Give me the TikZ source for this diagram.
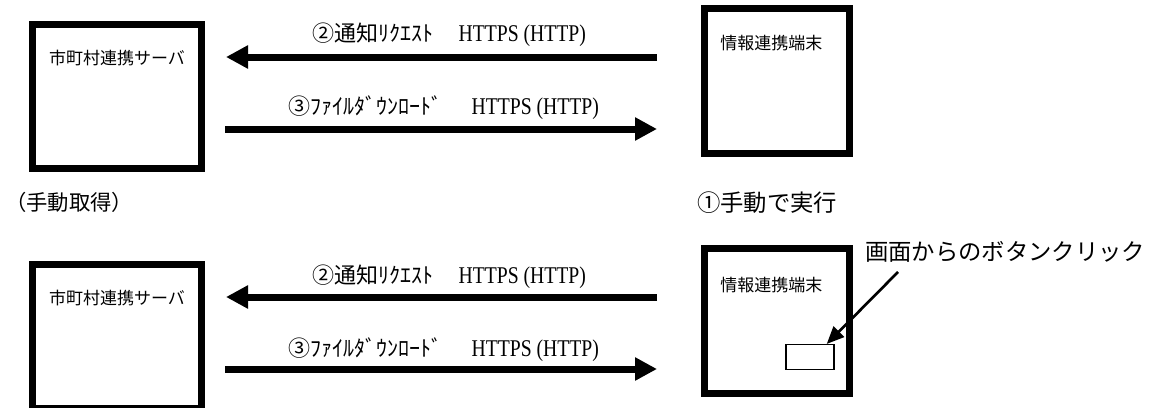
\documentclass[tikz,border=0pt]{standalone}
\usepackage{fontspec}
\usepackage{graphicx}
\setmainfont{Noto Sans CJK JP}
\newfontfamily\latfont{Liberation Serif}
\usetikzlibrary{arrows.meta,calc}

\newcommand{\proto}{\scalebox{0.82}[1]{\latfont\fontsize{18pt}{18pt}\selectfont HTTPS (HTTP)}}

\begin{document}
\begin{tikzpicture}[x=0.75pt,y=-0.75pt,
    box/.style={draw,line width=5.5pt,outer sep=2.75pt,inner sep=0pt,anchor=north west},
    srvbox/.style={box,minimum width=126.5pt,minimum height=107.8pt},
    termbox/.style={box,minimum width=108.5pt,minimum height=108.5pt},
    boxtext/.style={font=\fontsize{12.75pt}{14pt}\selectfont,inner sep=0pt},
    msg/.style={font=\fontsize{16.5pt}{18pt}\selectfont,inner sep=0pt,anchor=west},
    note/.style={font=\fontsize{17.5pt}{19pt}\selectfont,inner sep=0pt},
    bigarrow/.style={line width=5.25pt,-{Triangle[length=16.5pt,width=16.5pt]}}]

    \useasboundingbox (0,0) rectangle (1163,407);

    % 上段
    \node[srvbox] (srv1) at (29,21) {};
    \node[termbox] (term1) at (701,5) {};
    \node[boxtext] (srv1t) at (117,58) {市町村連携サーバ};
    \node[boxtext,anchor=west] (term1t) at (720,43) {情報連携端末};

    \coordinate (row1) at (0,57);
    \coordinate (row2) at (0,129);
    \node[msg] (req1) at (312,35) {②通知ﾘｸｴｽﾄ\hspace{19pt}\proto};
    \node[msg] (dl1) at (288,108) {③ﾌｧｲﾙﾀﾞｳﾝﾛｰﾄﾞ\hspace{22pt}\proto};
    \draw[bigarrow,shorten <=33pt,shorten >=15.75pt] (term1.west |- row1) -- (srv1.east |- row1);
    \draw[bigarrow,shorten <=15pt,shorten >=33pt] (srv1.east |- row2) -- (term1.west |- row2);

    % 見出し
    \node[note,font=\fontsize{16pt}{18pt}\selectfont] (manual) at (69,202) {（手動取得）};
    \node[note,anchor=west] (exec) at (697,203) {①手動で実行};

    % 下段
    \node[srvbox] (srv2) at (29,261) {};
    \node[termbox] (term2) at (701,245) {};
    \node[boxtext] (srv2t) at (117,298) {市町村連携サーバ};
    \node[boxtext,anchor=west] (term2t) at (720,285) {情報連携端末};

    \coordinate (row3) at (0,297);
    \coordinate (row4) at (0,369);
    \node[msg] (req2) at (312,277) {②通知ﾘｸｴｽﾄ\hspace{19pt}\proto};
    \node[msg] (dl2) at (288,350) {③ﾌｧｲﾙﾀﾞｳﾝﾛｰﾄﾞ\hspace{22pt}\proto};
    \draw[bigarrow,shorten <=33pt,shorten >=15.75pt] (term2.west |- row3) -- (srv2.east |- row3);
    \draw[bigarrow,shorten <=15pt,shorten >=33pt] (srv2.east |- row4) -- (term2.west |- row4);

    % ボタン
    \node[draw,line width=1.1pt,minimum width=36pt,minimum height=18.5pt,inner sep=0pt] (btn) at (810,357) {};
    \node[note,anchor=west] (click) at (865,252) {画面からのボタンクリック};
    \coordinate (clk) at (898,272);
    \draw[line width=2pt,-{Triangle[length=13pt,width=11pt]}] (clk) -- ([xshift=-6pt]btn.north east);

\end{tikzpicture}
\end{document}
